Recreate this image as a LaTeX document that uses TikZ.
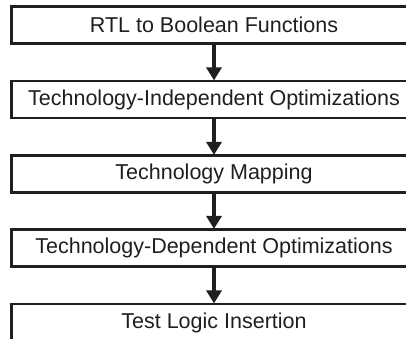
\documentclass[tikz,border=0pt]{standalone}
\usepackage{fontspec}
\setmainfont{Liberation Sans}
\usetikzlibrary{arrows.meta}
\begin{document}
\begin{tikzpicture}[x=1pt,y=1pt,
  stage/.style={draw=black!88, line width=2.2pt, minimum width=405pt,
    minimum height=37pt, inner sep=0pt, text=black!88,
    font=\fontsize{21.5}{24}\selectfont},
  flow/.style={draw=black!88, line width=4.5pt,
    -{Triangle[width=15pt,length=13pt]}, shorten >=-0.5pt}]
\useasboundingbox (0,0) rectangle (406,-338);
\clip (0,0) rectangle (406,-338);
\node[stage] (s1) at (214,-25)    {RTL to Boolean Functions};
\node[stage] (s2) at (214,-99.5)  {Technology-Independent Optimizations};
\node[stage] (s3) at (214,-174)   {Technology Mapping};
\node[stage] (s4) at (214,-248)   {Technology-Dependent Optimizations};
\node[stage] (s5) at (214,-322.5) {Test Logic Insertion};
\draw[flow] (s1.south) -- (s2.north);
\draw[flow] (s2.south) -- (s3.north);
\draw[flow] (s3.south) -- (s4.north);
\draw[flow] (s4.south) -- (s5.north);
\end{tikzpicture}
\end{document}
